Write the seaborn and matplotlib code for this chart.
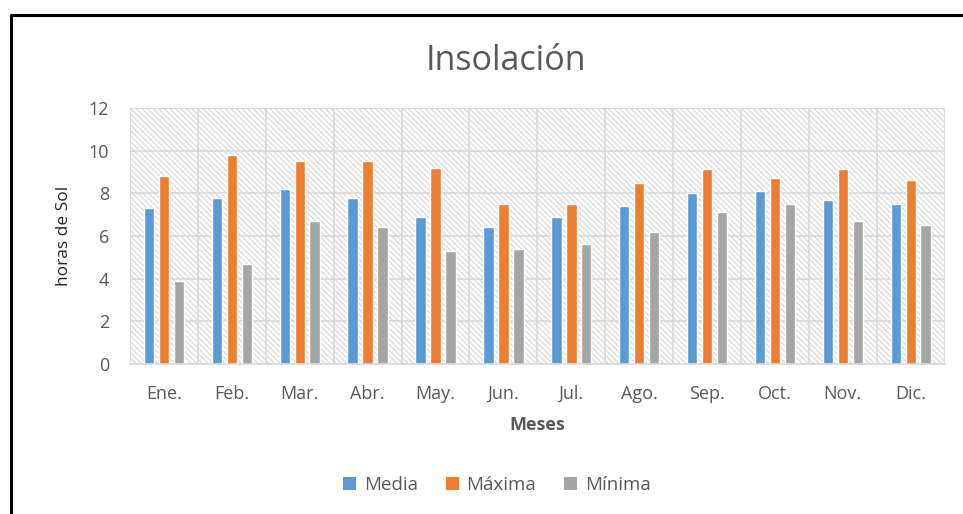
import numpy as np
import pandas as pd
import matplotlib
matplotlib.use("Agg")
import matplotlib.pyplot as plt
import seaborn as sns
from matplotlib.patches import Rectangle, Patch
from matplotlib.lines import Line2D

meses = ["Ene.", "Feb.", "Mar.", "Abr.", "May.", "Jun.",
         "Jul.", "Ago.", "Sep.", "Oct.", "Nov.", "Dic."]
media = [7.3, 7.8, 8.2, 7.8, 6.9, 6.4, 6.9, 7.4, 8.0, 8.1, 7.7, 7.5]
maxima = [8.8, 9.8, 9.5, 9.5, 9.2, 7.5, 7.5, 8.5, 9.15, 8.7, 9.15, 8.6]
minima = [3.9, 4.7, 6.7, 6.4, 5.3, 5.4, 5.6, 6.2, 7.1, 7.5, 6.7, 6.5]
series = ["Media", "Máxima", "Mínima"]
colores = ["#5B9BD5", "#ED7D31", "#A5A5A5"]

df = pd.DataFrame({
    "Mes": meses * 3,
    "Serie": [s for s in series for _ in meses],
    "Horas": media + maxima + minima,
})

sns.set_theme(style="white")
plt.rcParams["font.family"] = ["Open Sans", "DejaVu Sans"]
plt.rcParams["hatch.color"] = "#d6d6d6"
plt.rcParams["hatch.linewidth"] = 0.8

gris = "#595959"

fig = plt.figure(figsize=(9.63, 5.14), dpi=100)
ax = fig.add_axes([0.135, 0.292, 0.846, 0.498])

# fondo rayado del area de trazado
ax.add_patch(Rectangle((0, 0), 1, 1, transform=ax.transAxes, facecolor="white",
                       edgecolor="#d6d6d6", hatch="\\\\\\\\\\\\", linewidth=0, zorder=0))

sns.barplot(data=df, x="Mes", y="Horas", hue="Serie", palette=colores,
            saturation=1, width=0.66, gap=0.3, ax=ax, legend=False, zorder=2)

ax.set_xlim(-0.5, 11.5)
ax.set_ylim(0, 12)
ax.set_yticks(range(0, 13, 2))
ax.set_xticks(np.arange(-0.5, 12, 1), minor=True)
ax.set_axisbelow(True)
ax.grid(axis="y", color="#d9d9d9", linewidth=1.2)
ax.grid(axis="x", which="minor", color="#d9d9d9", linewidth=1.2)
ax.grid(axis="x", which="major", visible=False)
ax.tick_params(axis="both", which="both", length=0, colors=gris, labelsize=13)
ax.tick_params(axis="x", pad=15)
ax.tick_params(axis="y", pad=15)
for s in ["top", "right", "left"]:
    ax.spines[s].set_visible(False)
ax.spines["bottom"].set_color("#d9d9d9")
ax.spines["bottom"].set_linewidth(1.2)

ax.set_xlabel("Meses", fontsize=13, fontweight="bold", color=gris, labelpad=9.5)
ax.set_ylabel("horas de Sol", fontsize=12.5, color="#262626", labelpad=12)

fig.text(0.525, 0.881, "Insolación", ha="center", va="center",
         fontsize=24.5, color=gris)

handles = [Patch(facecolor=c, edgecolor="none") for c in colores]
fig.legend(handles, series, loc="center", bbox_to_anchor=(0.516, 0.056), ncol=3,
           frameon=False, fontsize=13.5, handlelength=0.7, handleheight=0.7,
           handletextpad=0.4, columnspacing=1.5, labelcolor=gris)

# marco negro (borde izquierdo y superior)
xb = 11 / 963
yb = 1 - 15 / 514
fig.add_artist(Line2D([xb, xb, 1], [0, yb, yb], transform=fig.transFigure,
                      color="black", linewidth=2.2))

fig.savefig("out.png", dpi=100)
